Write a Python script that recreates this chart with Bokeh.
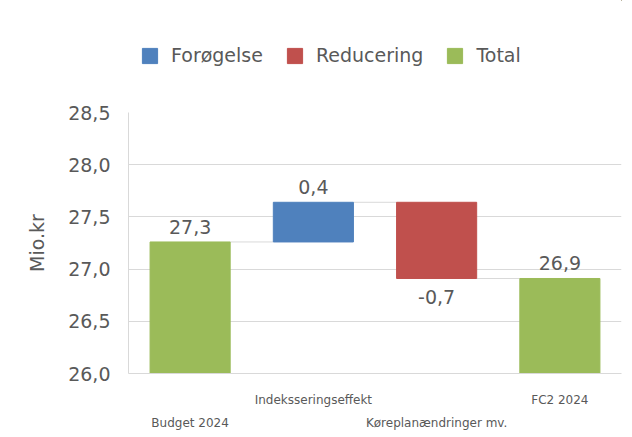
from bokeh.plotting import figure
from bokeh.layouts import column
from bokeh.models import (ColumnDataSource, Range1d, FixedTicker, CustomJSTickFormatter,
                          LinearAxis, Legend, LegendItem, CDSView, GroupFilter)
from bokeh.core.properties import value
from bokeh.embed import file_html
from bokeh.resources import INLINE

# ---------------- data ----------------
categories = ["Budget 2024", "Indeksseringseffekt", "Køreplanændringer mv.", "FC2 2024"]
amounts = [27.26, 0.38, -0.73, 26.91]
kinds = ["Total", "Forøgelse", "Reducering", "Total"]
legend_order = ["Forøgelse", "Reducering", "Total"]
y_ticks = [26.0, 26.5, 27.0, 27.5, 28.0, 28.5]
y_title = "Mio.kr"

colors = {"Forøgelse": "#4F81BD", "Reducering": "#C0504D", "Total": "#9BBB59"}
FONT = "DejaVu Sans"
TXT = "#595959"
GRID = "#d9d9d9"
BAR_W = 0.65
BIG = "19px"

# ---------------- waterfall geometry ----------------
xs = list(range(len(categories)))
bottoms, tops, ends = [], [], []
running = 0.0
for a, k in zip(amounts, kinds):
    if k == "Total":
        b, t = 0.0, a
        running = a
    else:
        b, t = (running, running + a) if a >= 0 else (running + a, running)
        running += a
    bottoms.append(b)
    tops.append(t)
    ends.append(running)

labels = [f"{a:.1f}".replace(".", ",") for a in amounts]

src = ColumnDataSource(dict(x=xs, bottom=bottoms, top=tops, kind=kinds, cat=categories))

# ---------------- legend strip (top) ----------------
pl = figure(width=632, height=88, output_backend="svg", toolbar_location=None,
            x_axis_type=None, y_axis_type=None, min_border=0,
            x_range=Range1d(0, 1), y_range=Range1d(0, 1))
pl.outline_line_color = None
pl.background_fill_color = "white"
pl.border_fill_color = "white"
pl.xgrid.visible = False
pl.ygrid.visible = False
dummy = {}
for k in legend_order:
    # legend key only: a bar placed outside the strip's visible range
    dummy[k] = pl.vbar(x=[5], bottom=[4], top=[5], width=1,
                       fill_color=colors[k], line_color=colors[k])
legend = Legend(items=[LegendItem(label=k, renderers=[dummy[k]]) for k in legend_order],
                orientation="horizontal", location=(12, 22),
                label_text_font=FONT, label_text_font_size=BIG, label_text_color=TXT,
                glyph_width=19, glyph_height=19, label_standoff=12, spacing=22,
                padding=0, margin=0, border_line_color=None, background_fill_alpha=0)
pl.add_layout(legend, "center")

# ---------------- main chart ----------------
p = figure(width=632, height=349, x_range=Range1d(-0.5, len(categories) - 0.5),
           y_range=Range1d(y_ticks[0], y_ticks[-1]), output_backend="svg",
           toolbar_location=None, x_axis_type=None,
           min_border_left=128, min_border_right=11, min_border_top=24, min_border_bottom=64)
p.outline_line_color = None
p.background_fill_color = "white"
p.border_fill_color = "white"

ya = p.yaxis[0]
ya.ticker = FixedTicker(ticks=y_ticks)
ya.formatter = CustomJSTickFormatter(code="return tick.toFixed(1).replace('.', ',');")
ya.major_tick_line_color = None
ya.minor_tick_line_color = None
ya.axis_line_color = GRID
ya.major_label_standoff = 12
ya.major_label_text_font = FONT
ya.major_label_text_font_size = BIG
ya.major_label_text_color = TXT
ya.axis_label = y_title
ya.axis_label_text_font = FONT
ya.axis_label_text_font_size = BIG
ya.axis_label_text_font_style = "normal"
ya.axis_label_text_color = TXT
ya.axis_label_standoff = 17

p.ygrid[0].ticker = FixedTicker(ticks=y_ticks)
p.ygrid[0].grid_line_color = GRID

# staggered category labels: two axes below
row1 = [c if i % 2 == 1 else "" for i, c in enumerate(categories)]
row2 = [c if i % 2 == 0 else "" for i, c in enumerate(categories)]
for row, standoff, line in ((row1, 13, GRID), (row2, 0, None)):
    ax = LinearAxis(ticker=FixedTicker(ticks=xs),
                    formatter=CustomJSTickFormatter(args=dict(labels=row),
                                                    code="return labels[Math.round(tick)] || '';"))
    ax.major_tick_line_color = None
    ax.minor_tick_line_color = None
    ax.axis_line_color = line
    ax.major_label_standoff = standoff
    ax.major_label_text_font = FONT
    ax.major_label_text_font_size = "12px"
    ax.major_label_text_color = TXT
    p.add_layout(ax, "below")

# connectors
cx0 = [i + BAR_W / 2 for i in xs[:-1]]
cx1 = [i + 1 - BAR_W / 2 for i in xs[:-1]]
cy = ends[:-1]
p.segment(x0=cx0, x1=cx1, y0=cy, y1=cy, line_color=GRID, line_width=1)

# bars
for k in legend_order:
    view = CDSView(filter=GroupFilter(column_name="kind", group=k))
    p.vbar(x="x", width=BAR_W, bottom="bottom", top="top", source=src, view=view,
           fill_color=colors[k], line_color=colors[k])

# data labels
pos = [i for i, a in enumerate(amounts) if a >= 0]
neg = [i for i, a in enumerate(amounts) if a < 0]
p.text(x=[xs[i] for i in pos], y=[tops[i] for i in pos], text=[labels[i] for i in pos],
       text_font=value(FONT), text_font_size=BIG, text_color=TXT,
       text_align="center", text_baseline="bottom", y_offset=-8)
p.text(x=[xs[i] for i in neg], y=[bottoms[i] for i in neg], text=[labels[i] for i in neg],
       text_font=value(FONT), text_font_size=BIG, text_color=TXT,
       text_align="center", text_baseline="top", y_offset=12)

layout = column(pl, p, spacing=0)
open("out.html", "w").write(file_html(layout, INLINE))
